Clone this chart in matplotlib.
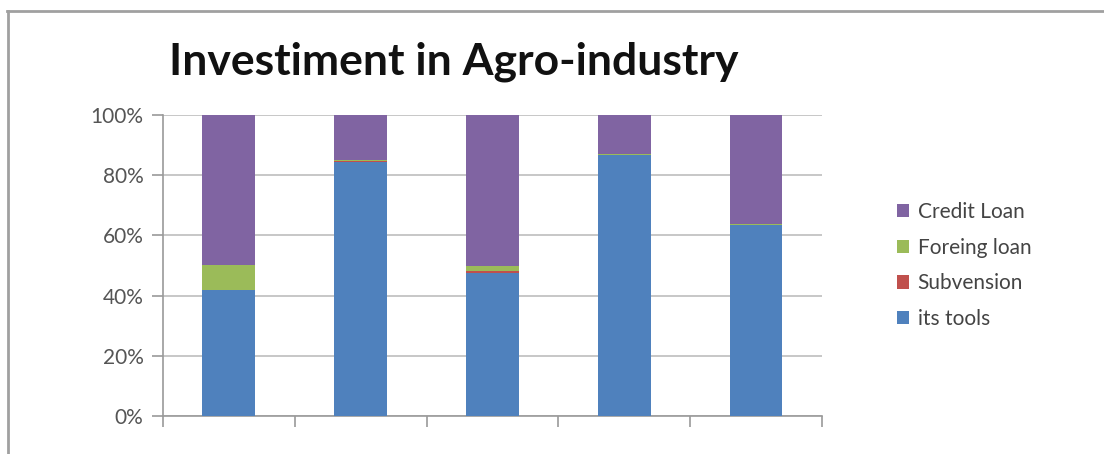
import numpy as np
import matplotlib.pyplot as plt
from matplotlib.lines import Line2D
from matplotlib.patches import Patch
from matplotlib.ticker import FuncFormatter

# shares per investment source (percent of each column)
groups = ["1", "2", "3", "4", "5"]
its_tools = [42.0, 84.5, 47.4, 86.6, 63.3]
subvension = [0.0, 0.2, 0.7, 0.2, 0.2]
foreing_loan = [8.0, 0.4, 1.8, 0.3, 0.4]
credit_loan = [50.0, 14.9, 50.1, 12.9, 36.1]

plt.rcParams['font.family'] = ['Lato', 'DejaVu Sans']

fig = plt.figure(figsize=(11.04, 4.54), dpi=100)
ax = fig.add_axes([0.1476, 0.0837, 0.5970, 0.6630])

x = np.arange(len(groups))
w = 0.4
series = [
    (its_tools, "its tools", "#4F81BD"),
    (subvension, "Subvension", "#C0504D"),
    (foreing_loan, "Foreing loan", "#9BBB59"),
    (credit_loan, "Credit Loan", "#8064A2"),
]
bottom = np.zeros(len(groups))
for vals, name, col in series:
    vals = np.array(vals)
    ax.bar(x, vals, w, bottom=bottom, color=col, label=name, zorder=3)
    bottom += vals

ax.set_xlim(-0.5, len(groups) - 0.5)
ax.set_ylim(0, 100)
ax.set_yticks(np.arange(0, 101, 20))
ax.yaxis.set_major_formatter(FuncFormatter(lambda v, p: f"{int(v)}%"))
ax.set_xticks(np.arange(-0.5, len(groups), 1))
ax.set_xticklabels([])
ax.grid(axis='y', color='#BDBDBD', linewidth=1.2, zorder=0)
for s in ['top', 'right']:
    ax.spines[s].set_visible(False)
for s in ['left', 'bottom']:
    ax.spines[s].set_color('#9A9A9A')
    ax.spines[s].set_linewidth(1.2)
ax.tick_params(axis='y', colors='#9A9A9A', labelcolor='#555555', labelsize=15,
               length=8, width=1.2, pad=6)
ax.tick_params(axis='x', colors='#9A9A9A', length=8, width=1.2)

fig.text(0.411, 0.865, "Investiment in Agro-industry", ha='center', va='center',
         fontsize=32, fontweight='bold', color='#111111')

handles = [Patch(facecolor=c, label=n) for _, n, c in series[::-1]]
ax.legend(handles=handles, loc='center left', bbox_to_anchor=(1.085, 0.5),
          frameon=False, fontsize=15, handlelength=0.6, handleheight=0.6,
          handletextpad=0.4, labelspacing=0.75, labelcolor='#444444')

# chart border (top and left edges)
fig.add_artist(Line2D([7 / 1104, 1.0], [1 - 11 / 454, 1 - 11 / 454],
                      color='#A0A0A0', linewidth=2))
fig.add_artist(Line2D([8 / 1104, 8 / 1104], [0.0, 1 - 11 / 454],
                      color='#A0A0A0', linewidth=2))

fig.savefig("out.png", dpi=100, facecolor='white')
